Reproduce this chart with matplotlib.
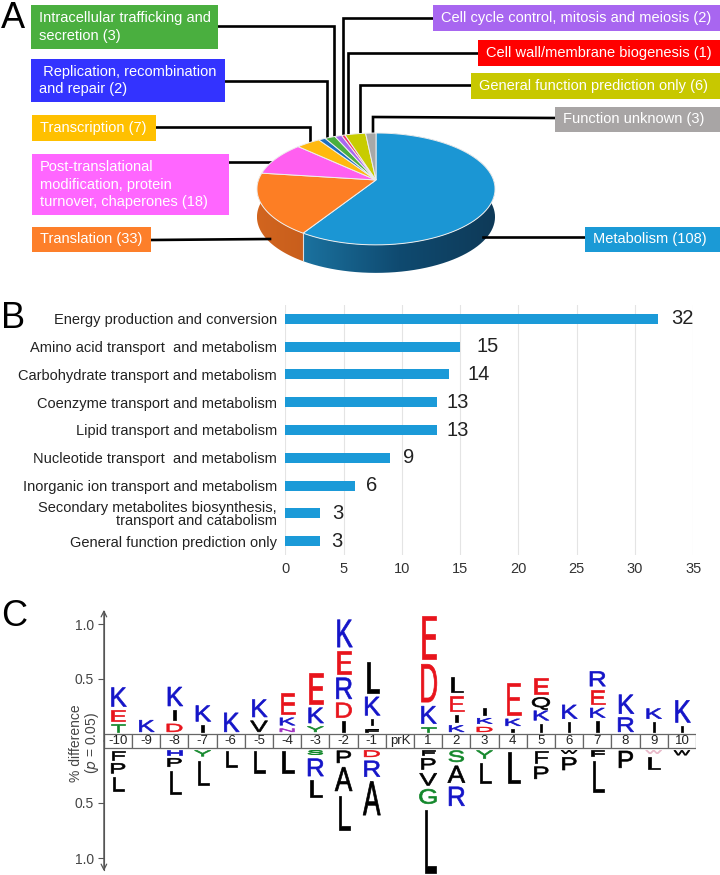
import numpy as np
import matplotlib
matplotlib.use('Agg')
import matplotlib.pyplot as plt
from matplotlib.colors import LinearSegmentedColormap
from matplotlib.patches import Rectangle, Polygon
from matplotlib.patheffects import AbstractPathEffect
from matplotlib.transforms import Affine2D

plt.rcParams['font.family'] = ['Liberation Sans', 'DejaVu Sans']

# panel A
pie_names = ['Metabolism', 'Translation',
             'Post-translational\nmodification, protein\nturnover, chaperones',
             'Transcription', ' Replication, recombination\nand repair',
             'Intracellular trafficking and\nsecretion',
             'Cell cycle control, mitosis and meiosis',
             'Cell wall/membrane biogenesis',
             'General function prediction only', 'Function unknown']
pie_counts = [108, 33, 18, 7, 2, 3, 2, 1, 6, 3]
pie_colors = ['#1b96d4', '#fd7e24', '#ff5ff0', '#ffb90f', '#1b6fc0',
              '#4aaf3f', '#a866f0', '#f5306a', '#c8cc00', '#a8a8a8']
box_colors = ['#1b9ad6', '#fd7f2a', '#ff66ff', '#ffc000', '#3333ff',
              '#4aaf3f', '#a866f0', '#ff0000', '#c8c800', '#a8a5a5']
# x0, y0, x1, y1 in pixels
box_rects = [(585, 227, 720, 252), (32, 227, 151, 252), (32, 154, 229, 215),
             (32, 115, 156, 141), (31, 59, 225, 102), (31, 5, 218, 49),
             (433, 5, 720, 31), (478, 40, 720, 66), (471, 73, 720, 99),
             (555, 107, 720, 132)]
leaders = [[(585, 237), (483, 237)],
           [(151, 240), (270, 239)],
           [(229, 162), (272, 162)],
           [(156, 127), (310, 127), (310, 143)],
           [(225, 81), (327, 81), (327, 140)],
           [(218, 26), (334, 26), (334, 137)],
           [(433, 18), (343, 18), (343, 136)],
           [(478, 53), (348, 53), (348, 135)],
           [(471, 85), (360, 85), (360, 135)],
           [(555, 118), (373, 117), (373, 133)]]

# panel B
bar_names = ['Energy production and conversion', 'Amino acid transport  and metabolism',
             'Carbohydrate transport and metabolism', 'Coenzyme transport and metabolism',
             'Lipid transport and metabolism', 'Nucleotide transport  and metabolism',
             'Inorganic ion transport and metabolism',
             'Secondary metabolites biosynthesis,\ntransport and catabolism',
             'General function prediction only']
bar_values = [32, 15, 14, 13, 13, 9, 6, 3, 3]
bar_label_x = [33.07, 16.4, 15.6, 13.8, 13.8, 10.1, 6.9, 4.0, 3.95]

# panel C, stacks start at the middle strip and go outwards
pos_labels = ['-10', '-9', '-8', '-7', '-6', '-5', '-4', '-3', '-2', '-1', 'prK',
              '1', '2', '3', '4', '5', '6', '7', '8', '9', '10']
up_letters = ['TEK', 'K', 'DIK', 'IK', 'K', 'VK', 'NKE', 'YKE', 'IDREK', 'FIKL', '',
              'TKDE', 'KIEL', 'DKI', 'IKE', 'IKQE', 'IK', 'IKER', 'RK', 'IK', 'IK']
up_heights = [[.07, .10, .18], [.11], [.075, .10, .18], [.065, .15], [.18],
              [.105, .165], [.03, .07, .20], [.05, .145, .29],
              [.10, .14, .20, .21, .26], [.03, .06, .175, .295], [],
              [.045, .165, .36, .415], [.06, .065, .145, .145], [.045, .05, .06],
              [.025, .065, .31], [.075, .09, .09, .15], [.09, .13],
              [.10, .09, .135, .14], [.135, .18], [.09, .095], [.055, .21]]
down_letters = ['FPL', '', 'HPL', 'YL', 'L', 'L', 'L', 'SRL', 'PAL', 'DRA', '',
                'FPVGL', 'SAR', 'YL', 'L', 'FP', 'WP', 'FL', 'P', 'WL', 'W']
down_heights = [[.085, .095, .13], [], [.04, .08, .22], [.055, .235], [.15], [.205],
                [.205], [.04, .165, .16], [.115, .225, .325], [.06, .15, .32], [],
                [.04, .105, .115, .135, .60], [.105, .16, .18], [.075, .195], [.30],
                [.115, .115], [.03, .12], [.055, .295], [.16], [.03, .115], [.045]]
letter_colors = {'K': '#1414c8', 'R': '#1414c8', 'H': '#1414c8',
                 'D': '#e8141c', 'E': '#e8141c',
                 'G': '#12872a', 'S': '#12872a', 'T': '#12872a', 'Y': '#12872a',
                 'N': '#a030c0'}


class StretchX(AbstractPathEffect):
    # logo letters: font size gives the height, this squeezes the width around the glyph centre
    def __init__(self, sx, stroke=0.5):
        super().__init__()
        self.sx = sx
        self.stroke = stroke

    def draw_path(self, renderer, gc, tpath, affine, rgbFace=None):
        ext = tpath.get_extents()
        mid = (ext.x0 + ext.x1) / 2
        squeeze = Affine2D().translate(-mid, 0).scale(self.sx, 1).translate(mid, 0)
        gc.set_linewidth(self.stroke)
        gc.set_foreground(rgbFace)
        renderer.draw_path(gc, tpath, squeeze + affine, rgbFace)


W, H = 720, 875
fig = plt.figure(figsize=(W / 100, H / 100), dpi=100)


def px_axes(x0, y0, x1, y1):
    return fig.add_axes([x0 / W, 1 - y1 / H, (x1 - x0) / W, (y1 - y0) / H])


bg = px_axes(0, 0, W, H)
bg.set_xlim(0, W)
bg.set_ylim(H, 0)
bg.axis('off')

# --- A: pie in perspective ---
cx, cy, a, b, k, depth = 376, 180, 117.5, 54.5, 0.16, 28


def rim(theta):
    u, v = np.sin(theta), np.cos(theta)
    d = 1 + k * v
    return cx + a * u / d, cy - b * v / d


edges = np.radians(np.cumsum([0] + pie_counts) / sum(pie_counts) * 360)

wall_maps = {0: ['#0e3a58', '#0f4a70', '#1b729f'], 1: ['#d2651f', '#c85e1c']}
for i in (0, 1):
    th = np.linspace(edges[i], edges[i + 1], 80)
    xs, ys = rim(th)
    pts = np.r_[np.c_[xs, ys], np.c_[xs, ys + depth][::-1]]
    cmap = LinearSegmentedColormap.from_list('wall', wall_maps[i])
    grad = np.linspace(0, 1, 256).reshape(1, -1)
    if i == 0:
        grad = grad[:, ::-1]
    im = bg.imshow(grad, cmap=cmap, aspect='auto', zorder=1,
                   extent=(pts[:, 0].min(), pts[:, 0].max(), pts[:, 1].max(), pts[:, 1].min()))
    im.set_clip_path(Polygon(pts, transform=bg.transData))
bg.plot([rim(edges[1])[0]] * 2, [rim(edges[1])[1], rim(edges[1])[1] + depth],
        color='#dddddd', lw=0.8, zorder=2)
bg.set_xlim(0, W)
bg.set_ylim(H, 0)

for i, color in enumerate(pie_colors):
    th = np.linspace(edges[i], edges[i + 1], 80)
    xs, ys = rim(th)
    bg.fill(np.r_[cx, xs], np.r_[cy, ys], facecolor=color, edgecolor='#eeeeee',
            lw=0.7, zorder=3)

for path in leaders:
    bg.plot(*zip(*path), color='black', lw=1.9, zorder=2, solid_joinstyle='miter')

for name, count, color, (x0, y0, x1, y1) in zip(pie_names, pie_counts, box_colors, box_rects):
    bg.add_patch(Rectangle((x0, y0), x1 - x0, y1 - y0, facecolor=color, edgecolor='none', zorder=4))
    bg.text(x0 + 8, (y0 + y1) / 2, f'{name} ({count})', color='white', fontsize=10.5,
            va='center', ha='left', linespacing=1.3, zorder=5)

for letter, y in zip('ABC', (28, 328, 626)):
    bg.text(1, y, letter, fontsize=26, color='black', va='baseline', ha='left')

# --- B: bars ---
ax = px_axes(285.3, 305, 693.3, 555)
ax.patch.set_alpha(0)
ypos = np.arange(len(bar_values))
ax.barh(ypos, bar_values, height=0.36, color='#1b9ad8', zorder=3)
ax.set_xlim(0, 35)
ax.set_ylim(8.5, -0.5)
ax.set_yticks(ypos, bar_names, fontsize=10.5, color='#222222', linespacing=0.95)
for t in ax.get_yticklabels():
    t.set_multialignment('right')
ax.set_xticks(range(0, 36, 5))
ax.tick_params(axis='x', length=0, labelsize=10.5, labelcolor='#333333', pad=5)
ax.tick_params(axis='y', length=0, pad=6)
ax.grid(axis='x', color='#e4e4e4', lw=0.8, zorder=0)
for s in ax.spines.values():
    s.set_visible(False)
for y, x, v in zip(ypos, bar_label_x, bar_values):
    ax.text(x, y, str(v), fontsize=14.5, color='#222222', va='center', ha='left')

# --- C: sequence logo ---
px_unit = 110
strip = 7 / px_unit
logo = px_axes(103.9, 611, 696, 870)
logo.patch.set_alpha(0)
logo.set_xlim(-0.5, 20.5)
logo.set_ylim((741 - 870) / px_unit, (741 - 611) / px_unit)
for name in ('top', 'right', 'bottom'):
    logo.spines[name].set_visible(False)
logo.spines['left'].set_color('#555555')
logo.set_xticks([])
logo.set_yticks([strip + 1, strip + .5, -strip - .5, -strip - 1], ['1.0', '0.5', '0.5', '1.0'])
logo.tick_params(axis='y', length=4, color='#555555', labelcolor='#444444', labelsize=10, pad=3)
for y0, y1 in ((0, logo.get_ylim()[1] + 0.01), (0, logo.get_ylim()[0] - 0.01)):
    logo.annotate('', xy=(-0.5, y1), xytext=(-0.5, y0), annotation_clip=False,
                  arrowprops=dict(arrowstyle='->', color='#555555', lw=0.9, shrinkA=0, shrinkB=0))
bg.text(85, 743, '% difference\n($\\it{p}$ = 0.05)', rotation=90, fontsize=10, color='#444444',
        ha='center', va='center', linespacing=1.05, multialignment='center')

for i, label in enumerate(pos_labels):
    logo.add_patch(Rectangle((i - 0.5, -strip), 1, 2 * strip, facecolor='white',
                             edgecolor='#666666', lw=0.9, zorder=2))
    logo.text(i, -0.003, label, fontsize=9.5, color='#222222', ha='center', va='center', zorder=3)

EM_PX = 26
CAP = 0.72
GAP = 0.03


def draw_letter(i, y, letter, h, color):
    # font size from the letter height, then squeeze to the common letter width
    em = h * px_unit / CAP
    width_em = 17 if letter == 'W' else EM_PX
    t = logo.text(i, y, letter, fontsize=em * 0.72, color=color, ha='center', va='baseline',
                  clip_on=False, zorder=4)
    t.set_path_effects([StretchX(width_em / em)])


for i in range(len(pos_labels)):
    y = strip + 0.02
    for letter, h in zip(up_letters[i], up_heights[i]):
        draw_letter(i, y, letter, h, letter_colors.get(letter, 'black'))
        y += h + GAP
    y = -strip - 0.02
    for letter, h in zip(down_letters[i], down_heights[i]):
        color = '#e8b8c8' if letter == 'W' and pos_labels[i] == '9' else letter_colors.get(letter, 'black')
        draw_letter(i, y - h, letter, h, color)
        y -= h + GAP

fig.savefig('out.png', dpi=100)
